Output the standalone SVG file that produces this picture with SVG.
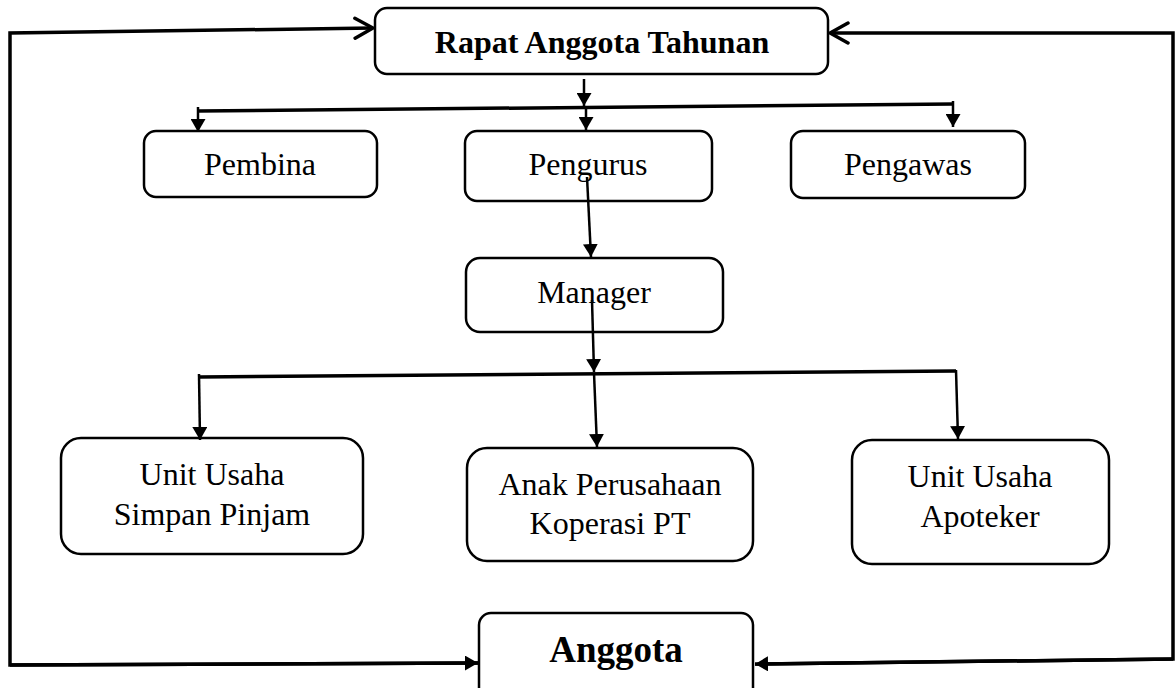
<svg xmlns="http://www.w3.org/2000/svg" width="1176" height="688" viewBox="0 0 1176 688">
  <style>
    .box { fill: #fff; stroke: #000; stroke-width: 2.5; }
    .t { font-family: "Liberation Serif", "Times New Roman", serif; font-size: 32px; fill: #000; text-anchor: middle; }
    .tb { font-family: "Liberation Serif", "Times New Roman", serif; font-weight: bold; fill: #000; text-anchor: middle; }
    .ln { fill: none; stroke: #000; stroke-width: 2.5; }
    .bar { fill: none; stroke: #000; stroke-width: 3.5; }
    .loop { fill: none; stroke: #000; stroke-width: 3.5; stroke-linejoin: miter; }
  </style>
  <defs>
    <marker id="tri" viewBox="0 0 13 15" refX="13" refY="7.5" markerWidth="13" markerHeight="15" markerUnits="userSpaceOnUse" orient="auto">
      <path d="M0,0 L13,7.5 L0,15 Z" fill="#000"/>
    </marker>
    <marker id="vee" viewBox="-3 -3 24 26" refX="18" refY="10" markerWidth="24" markerHeight="26" markerUnits="userSpaceOnUse" orient="auto">
      <path d="M0,0 L18,10 L0,20" fill="none" stroke="#000" stroke-width="3.5" stroke-linecap="round"/>
    </marker>
  </defs>

  <g id="rapat">
    <rect class="box" x="375" y="8" width="453" height="66" rx="12"/>
    <text class="tb" x="602" y="53" font-size="32">Rapat Anggota Tahunan</text>
  </g>
  <g id="pembina">
    <rect class="box" x="144" y="131" width="233" height="66" rx="12"/>
    <text class="t" x="260" y="175">Pembina</text>
  </g>
  <g id="pengurus">
    <rect class="box" x="465" y="131" width="247" height="70" rx="12"/>
    <text class="t" x="588" y="175">Pengurus</text>
  </g>
  <g id="pengawas">
    <rect class="box" x="791" y="131" width="234" height="67" rx="12"/>
    <text class="t" x="908" y="175">Pengawas</text>
  </g>
  <g id="manager">
    <rect class="box" x="466" y="258" width="257" height="74" rx="14"/>
    <text class="t" x="594" y="303">Manager</text>
  </g>
  <g id="simpan-pinjam">
    <rect class="box" x="61" y="438" width="302" height="116" rx="20"/>
    <text class="t" x="212" y="485">Unit Usaha</text>
    <text class="t" x="212" y="525">Simpan Pinjam</text>
  </g>
  <g id="anak-perusahaan">
    <rect class="box" x="467" y="448" width="286" height="113" rx="20"/>
    <text class="t" x="610" y="495">Anak Perusahaan</text>
    <text class="t" x="610" y="534">Koperasi PT</text>
  </g>
  <g id="apoteker">
    <rect class="box" x="852" y="440" width="257" height="124" rx="20"/>
    <text class="t" x="980" y="487">Unit Usaha</text>
    <text class="t" x="980" y="527">Apoteker</text>
  </g>
  <g id="anggota">
    <rect class="box" x="479" y="613" width="274" height="90" rx="12"/>
    <text class="tb" x="616" y="662" font-size="37">Anggota</text>
  </g>

  <g id="connectors">
    <!-- left loop -->
    <polyline class="loop" points="478,663 10,665 10,33 373,28" marker-end="url(#vee)"/>
    <line class="loop" x1="10" y1="665" x2="478" y2="663" marker-end="url(#tri)"/>
    <!-- right loop -->
    <polyline class="loop" points="755,664 1173,659 1173,33 830,33" marker-end="url(#vee)"/>
    <line class="loop" x1="1173" y1="659" x2="755" y2="664" marker-end="url(#tri)"/>
    <!-- Rapat to bar -->
    <line class="ln" x1="584" y1="79" x2="584" y2="106" marker-end="url(#tri)"/>
    <line class="bar" x1="198" y1="111" x2="953" y2="104"/>
    <line class="ln" x1="198" y1="107" x2="198" y2="132" marker-end="url(#tri)"/>
    <line class="ln" x1="586" y1="108" x2="586" y2="130" marker-end="url(#tri)"/>
    <line class="ln" x1="953" y1="101" x2="953" y2="127" marker-end="url(#tri)"/>
    <!-- Pengurus to Manager -->
    <line class="ln" x1="587" y1="177" x2="591" y2="257" marker-end="url(#tri)"/>
    <!-- Manager to bar -->
    <line class="ln" x1="592" y1="300" x2="594" y2="372" marker-end="url(#tri)"/>
    <line class="bar" x1="199" y1="377" x2="956" y2="371"/>
    <line class="ln" x1="199" y1="374" x2="200" y2="440" marker-end="url(#tri)"/>
    <line class="ln" x1="594" y1="373" x2="597" y2="447" marker-end="url(#tri)"/>
    <line class="ln" x1="956" y1="370" x2="958" y2="439" marker-end="url(#tri)"/>
  </g>
</svg>
